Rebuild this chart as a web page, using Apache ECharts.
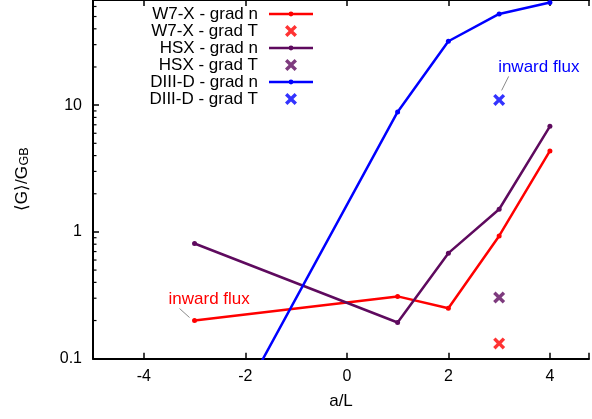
<!DOCTYPE html>
<html>
<head>
<meta charset="utf-8">
<title>Particle flux vs a/L</title>
<script src="https://cdn.jsdelivr.net/npm/echarts@6/dist/echarts.min.js"></script>
<style>
  html, body { margin: 0; padding: 0; background: #fff; }
  #chart { width: 592px; height: 419px; }
</style>
</head>
<body>
<div id="chart"></div>
<script>
// Normalised particle flux <G>/G_GB against a/L for three devices.
const aOverL = [-3, 1, 2, 3, 4];
const w7xGradN = [0.20, 0.31, 0.25, 0.93, 4.35];
const hsxGradN = [0.81, 0.193, 0.68, 1.51, 6.8];
const diiidGradN = [0.0102, 8.84, 31.9, 52.4, 64.4];

const gradTX = 3;
const w7xGradT = 0.132;
const hsxGradT = 0.304;
const diiidGradT = 11.0;

const seriesNames = ['W7-X - grad n', 'W7-X - grad T', 'HSX - grad n', 'HSX - grad T', 'DIII-D - grad n', 'DIII-D - grad T'];
const yTickLabels = ['0.1', '1', '10'];
const yMinorTicks = [0.2, 0.3, 0.4, 0.5, 0.6, 0.7, 0.8, 0.9, 2, 3, 4, 5, 6, 7, 8, 9, 20, 30, 40, 50, 60];
const annotationText = 'inward flux';
const yTitleMain = '⟨G⟩/G';
const yTitleSub = 'GB';

// visible a/L range and <G>/G_GB range of the plot window
const xRange = [-5, 4.77];
const yRange = [0.1, 67.5];

const RED = '#ff0000';
const PURPLE = '#5e0a5e';
const BLUE = '#0000ff';
const FONT = '"Liberation Sans", Arial, Helvetica, sans-serif';

// thick "x" marker
const CROSS = 'path://M0,2L2,0L5,3L8,0L10,2L7,5L10,8L8,10L5,7L2,10L0,8L3,5Z';
// legend sample: line with a small dot in the middle
const LINE_ICON = 'path://M0,4.8L44,4.8L44,7.2L0,7.2Z M19.6,6A2.4,2.4 0 1 1 24.4,6A2.4,2.4 0 1 1 19.6,6Z';

const zip = (xs, ys) => xs.map((x, i) => [x, ys[i]]);

function lineSeries(name, values, color) {
  return {
    name, type: 'line', data: zip(aOverL, values),
    symbol: 'circle', symbolSize: 5, showSymbol: true,
    color, lineStyle: { color, width: 2.5 }, itemStyle: { color },
    emphasis: { disabled: true }, animation: false
  };
}
function crossSeries(name, value, color) {
  return {
    name, type: 'scatter', data: [[gradTX, value]],
    symbol: CROSS, symbolSize: 12,
    color, itemStyle: { color },
    emphasis: { disabled: true }, animation: false
  };
}

// leader offsets and text placement for the two "inward flux" notes
const annoLayout = [
  { color: RED, tx: -26, ty: -21, l: [-15, -12, -5, -3] },
  { color: BLUE, tx: -1, ty: -33, l: [9.5, -23.5, 2.5, -9.5] }
];

const evenLabel = v => (Math.abs(v % 2) < 1e-9 ? String(v) : '');

const chart = echarts.init(document.getElementById('chart'), null, { renderer: 'canvas' });

const axisLineStyle = { color: '#000', width: 2 };

chart.setOption({
  animation: false,
  textStyle: { fontFamily: FONT, color: '#000' },
  grid: { left: 93, right: 0, top: 0, bottom: 60.3, containLabel: false },
  legend: {
    orient: 'vertical', align: 'right',
    right: 279, top: 5.5, padding: 0, itemGap: 0,
    itemWidth: 44, itemHeight: 12,
    selectedMode: false,
    textStyle: { fontSize: 17, lineHeight: 17, color: '#000', fontFamily: FONT, padding: [0, 6, 0, 0] },
    itemStyle: { borderWidth: 0 },
    data: [
      { name: seriesNames[0], icon: LINE_ICON },
      { name: seriesNames[1] },
      { name: seriesNames[2], icon: LINE_ICON },
      { name: seriesNames[3] },
      { name: seriesNames[4], icon: LINE_ICON },
      { name: seriesNames[5] }
    ]
  },
  // y-axis title with a subscript, reading bottom to top
  graphic: [{
    type: 'group', x: 22, y: 174, rotation: Math.PI / 2, silent: true,
    children: [
      { type: 'text', x: 8, y: 0, style: { text: yTitleMain, fontSize: 17, fontFamily: FONT, fill: '#000', align: 'right', verticalAlign: 'middle' } },
      { type: 'text', x: 8.5, y: 2.5, style: { text: yTitleSub, fontSize: 12.5, fontFamily: FONT, fill: '#000', align: 'left', verticalAlign: 'middle' } }
    ]
  }],
  xAxis: [
    {
      type: 'value', min: xRange[0], max: xRange[1], position: 'bottom',
      name: 'a/L', nameLocation: 'middle', nameGap: 34,
      nameTextStyle: { fontSize: 17, color: '#000', fontFamily: FONT },
      axisLine: { onZero: false, lineStyle: axisLineStyle },
      axisTick: { inside: true, length: 6, lineStyle: { color: '#000', width: 1.5 } },
      axisLabel: { fontSize: 16, color: '#000', margin: 10, fontFamily: FONT, formatter: evenLabel },
      splitLine: { show: false }
    },
    {
      type: 'value', min: xRange[0], max: xRange[1], position: 'top',
      axisLine: { onZero: false, lineStyle: axisLineStyle },
      axisTick: { inside: true, length: 6, lineStyle: { color: '#000', width: 1.5 } },
      axisLabel: { show: false },
      splitLine: { show: false }
    }
  ],
  yAxis: {
    type: 'log', logBase: 10, min: yRange[0], max: yRange[1], position: 'left',
    axisLine: { onZero: false, lineStyle: axisLineStyle },
    axisTick: { inside: true, length: 6, lineStyle: { color: '#000', width: 1.5 } },
    axisLabel: {
      fontSize: 16, color: '#000', margin: 11, fontFamily: FONT, showMaxLabel: false,
      formatter: v => {
        const k = Math.round(Math.log10(v));
        if (Math.abs(Math.log10(v) - k) > 1e-6) return '';
        return yTickLabels[k + 1] || '';
      }
    },
    splitLine: { show: false }
  },
  series: [
    lineSeries(seriesNames[0], w7xGradN, RED),
    crossSeries(seriesNames[1], w7xGradT, RED),
    lineSeries(seriesNames[2], hsxGradN, PURPLE),
    crossSeries(seriesNames[3], hsxGradT, PURPLE),
    lineSeries(seriesNames[4], diiidGradN, BLUE),
    crossSeries(seriesNames[5], diiidGradT, BLUE),
    {
      // minor log ticks on the left axis
      type: 'custom', silent: true, clip: false, animation: false,
      data: yMinorTicks.map(v => [xRange[0], v]),
      renderItem: (params, api) => {
        const p = api.coord([api.value(0), api.value(1)]);
        return {
          type: 'line',
          shape: { x1: p[0], y1: p[1], x2: p[0] + 3.5, y2: p[1] },
          style: { stroke: '#000', lineWidth: 1.2 }
        };
      }
    },
    {
      // "inward flux" notes with leader lines
      type: 'custom', silent: true, clip: false, animation: false,
      data: [[aOverL[0], w7xGradN[0]], [gradTX, diiidGradT]],
      renderItem: (params, api) => {
        const p = api.coord([api.value(0), api.value(1)]);
        const c = annoLayout[params.dataIndex];
        return {
          type: 'group',
          children: [
            {
              type: 'line',
              shape: { x1: p[0] + c.l[0], y1: p[1] + c.l[1], x2: p[0] + c.l[2], y2: p[1] + c.l[3] },
              style: { stroke: '#8a8a8a', lineWidth: 1 }
            },
            {
              type: 'text', x: p[0] + c.tx, y: p[1] + c.ty,
              style: {
                text: annotationText, fill: c.color, fontSize: 17, fontFamily: FONT,
                align: 'left', verticalAlign: 'middle'
              }
            }
          ]
        };
      }
    }
  ]
});
</script>
</body>
</html>
